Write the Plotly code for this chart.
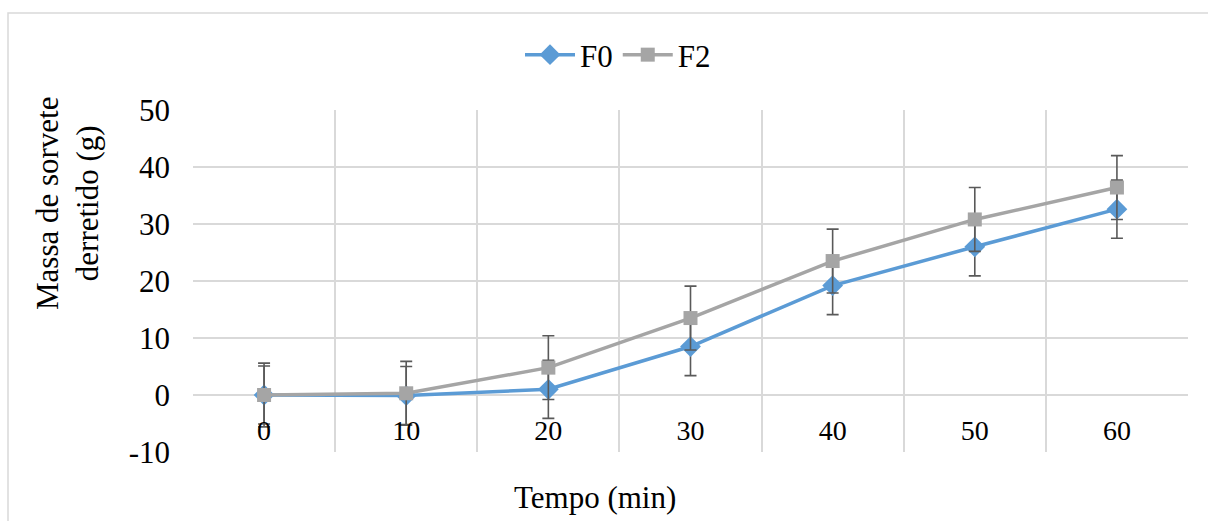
import plotly.graph_objects as go

tempo = ["0", "10", "20", "30", "40", "50", "60"]
f0 = [0.0, -0.1, 1.0, 8.5, 19.2, 26.0, 32.6]
f2 = [0.0, 0.3, 4.8, 13.5, 23.5, 30.8, 36.4]
f0_err = [5.1, 5.1, 5.1, 5.1, 5.1, 5.1, 5.1]
f2_err = [5.6, 5.6, 5.6, 5.6, 5.6, 5.6, 5.6]
y_ticks = [-10, 0, 10, 20, 30, 40, 50]
y_tick_text = ["-10", "0", "10", "20", "30", "40", "50"]

W, H = 1208, 521
L, R, T, B = 193, 1188, 110, 452

def px(x):
    return (x - L) / (R - L)

def py(y):
    return (B - y) / (B - T)

FONT = "Liberation Serif"

fig = go.Figure()
fig.add_trace(go.Scatter(
    x=tempo, y=f0, name="F0", mode="lines+markers",
    line=dict(color="#5B9BD5", width=3.5),
    marker=dict(symbol="diamond", size=16, color="#5B9BD5"),
    error_y=dict(type="data", array=f0_err, visible=True, color="#595959", thickness=1.6, width=6),
))
fig.add_trace(go.Scatter(
    x=tempo, y=f2, name="F2", mode="lines+markers",
    line=dict(color="#A5A5A5", width=3.5),
    marker=dict(symbol="square", size=14, color="#A5A5A5"),
    error_y=dict(type="data", array=f2_err, visible=True, color="#595959", thickness=1.6, width=6),
))

fig.update_layout(
    width=W, height=H,
    margin=dict(l=L, r=W - R, t=T, b=H - B),
    paper_bgcolor="white", plot_bgcolor="white",
    font=dict(family=FONT, size=31, color="#000000"),
    showlegend=True,
    legend=dict(orientation="h", x=px(618), y=py(55), xanchor="center", yanchor="middle",
                font=dict(family=FONT, size=31, color="#000000"), itemwidth=50, tracegroupgap=0,
                bgcolor="rgba(0,0,0,0)"),
    xaxis=dict(type="category", tickson="boundaries", showgrid=True, gridcolor="#D9D9D9",
               gridwidth=2, showline=False, zeroline=False, ticks="",
               anchor="free", position=1/6, range=[-0.5, 6.5],
               tickfont=dict(family=FONT, size=28, color="#000000"), ticklabelstandoff=16),
    yaxis=dict(range=[-10, 50], tickvals=y_ticks, ticktext=y_tick_text, showgrid=True,
               gridcolor="#D9D9D9", gridwidth=2, zeroline=False, showline=False, ticks="",
               tickfont=dict(family=FONT, size=31, color="#000000"), ticklabelstandoff=22),
    shapes=[dict(type="rect", xref="paper", yref="paper",
                 x0=px(8), y0=py(560), x1=px(1250), y1=py(13),
                 line=dict(color="#D9D9D9", width=1.5), fillcolor="rgba(0,0,0,0)", layer="below")],
    annotations=[
        dict(text="Massa de sorvete<br>derretido (g)", xref="paper", yref="paper",
             x=px(67), y=py(203), xanchor="center", yanchor="middle", textangle=-90,
             showarrow=False, font=dict(family=FONT, size=31, color="#000000")),
        dict(text="Tempo (min)", xref="paper", yref="paper",
             x=px(595), y=py(497), xanchor="center", yanchor="middle",
             showarrow=False, font=dict(family=FONT, size=31, color="#000000")),
    ],
)

fig.write_html("out.html")
